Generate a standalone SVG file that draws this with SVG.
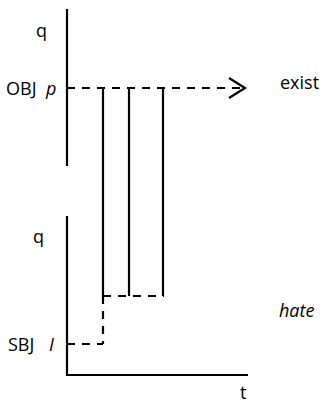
<svg xmlns="http://www.w3.org/2000/svg" width="326" height="406" viewBox="0 0 326 406">
<style>
.ax{stroke:#000;stroke-width:2.2;fill:none}
.d{stroke:#000;stroke-width:2.2;fill:none;stroke-dasharray:8 7}
.t{font-family:"Open Sans","DejaVu Sans",sans-serif;font-size:18px;fill:#000}
.i{font-style:italic}
</style>
<rect width="326" height="406" fill="#fff"/>
<g id="axes">
<line class="ax" x1="67" y1="9" x2="67" y2="166"/>
<path class="ax" d="M67,216 V375 H248"/>
</g>
<g id="connectors">
<line class="d" x1="67" y1="88" x2="244" y2="88"/>
<path class="ax" d="M229,78 L245,88 L229,98"/>
<line class="ax" x1="103" y1="88" x2="103" y2="296"/>
<line class="ax" x1="129" y1="88" x2="129" y2="296"/>
<line class="ax" x1="163" y1="88" x2="163" y2="296"/>
<line class="d" x1="103" y1="296" x2="164" y2="296"/>
<line class="d" x1="103" y1="296" x2="103" y2="344"/>
<line class="d" x1="67" y1="344" x2="103" y2="344"/>
</g>
<g id="labels">
<text class="t" x="36" y="37">q</text>
<text class="t" x="6" y="95">OBJ</text>
<text class="t i" x="46" y="95">p</text>
<text class="t" x="280" y="89">exist</text>
<text class="t" x="33" y="243">q</text>
<text class="t i" x="279" y="317">hate</text>
<text class="t" x="8" y="351">SBJ</text>
<text class="t i" x="49" y="351">I</text>
<text class="t" x="240" y="399">t</text>
</g>
</svg>
